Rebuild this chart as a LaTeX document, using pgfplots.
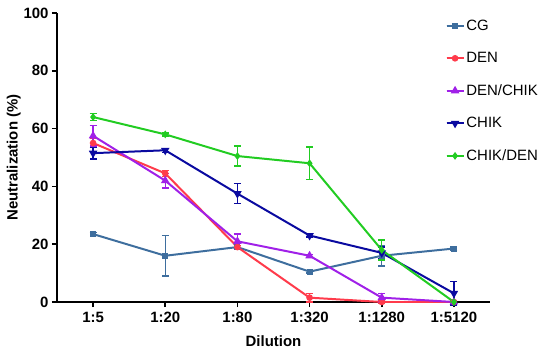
\documentclass[border=0pt]{standalone}
\usepackage{pgfplots}
\pgfplotsset{compat=1.18}
\usepackage{fontspec}
\setmainfont{Liberation Sans}
\definecolor{cCG}{HTML}{3E6E9E}
\definecolor{cDEN}{HTML}{FF3B4B}
\definecolor{cDC}{HTML}{A020E8}
\definecolor{cCHIK}{HTML}{0A0AA0}
\definecolor{cCD}{HTML}{22CC22}
\pgfplotsset{eb/.style={color=#1, line width=2pt,
    error bars/y dir=both, error bars/y explicit,
    error bars/error bar style={color=#1, line width=1.4pt},
    error bars/error mark options={color=#1, rotate=90, mark size=3.5pt, line width=1.4pt}}}
\begin{document}
\begin{tikzpicture}
\begin{axis}[
  scale only axis, width=433bp, height=289bp,
  xmin=-0.5, xmax=5.5, ymin=0, ymax=100,
  axis x line=bottom, axis y line=left,
  axis line style={line width=2.4pt, -},
  xtick={0,1,2,3,4,5},
  xticklabels={1:5,1:20,1:80,1:320,1:1280,1:5120},
  ytick={0,20,40,60,80,100},
  tick align=outside, major tick length=5bp,
  tick style={line width=1.6pt, black},
  ticklabel style={font=\fontsize{15}{17}\selectfont\bfseries},
  xticklabel style={yshift=-2pt},
  /pgf/number format/assume math mode=true,
  xlabel={Dilution}, ylabel={Neutralization (\%)},
  label style={font=\fontsize{15}{17}\selectfont\bfseries},
  xlabel style={yshift=-6pt},
  ylabel style={yshift=-4pt},
  clip=false,
  legend style={at={(rel axis cs:0.89,0.99)}, anchor=north west, draw=none,
    font=\fontsize{15}{17}\selectfont, row sep=16.5pt, fill=none},
  legend cell align=left,
  legend image code/.code={\draw[#1, line width=1.8pt] (0cm,0cm) -- (0.6cm,0cm); \path[#1,mark repeat=2,mark phase=2] plot coordinates {(0cm,0cm) (0.3cm,0cm)};},
]
\addplot[eb=cCG, mark=square*, mark size=2pt] table[x=x,y=y,y error=e] {
x y e
0 23.5 0.5
1 16 7
2 19 0.5
3 10.5 0.5
4 16 3.5
5 18.5 0.5
};
\addlegendentry{CG}
\addplot[eb=cDEN, mark=*, mark size=2.3pt] table[x=x,y=y,y error=e] {
x y e
0 55 1.5
1 44.5 1
2 19 0.5
3 1.5 1.5
4 0 0.3
5 0 0.3
};
\addlegendentry{DEN}
\addplot[eb=cDC, mark=triangle*, mark size=3pt] table[x=x,y=y,y error=e] {
x y e
0 57.5 3.5
1 42 2.5
2 21 2.5
3 16 0.5
4 1.5 1.5
5 0 0.3
};
\addlegendentry{DEN/CHIK}
\addplot[eb=cCHIK, mark=triangle*, mark options={rotate=180}, mark size=3pt] table[x=x,y=y,y error=e] {
x y e
0 51.5 2
1 52.5 0.7
2 37.5 3.5
3 23 0.5
4 17 2
5 3 4
};
\addlegendentry{CHIK}
\addplot[eb=cCD, mark=diamond*, mark size=2.3pt] table[x=x,y=y,y error=e] {
x y e
0 64 1.2
1 58 0.5
2 50.5 3.5
3 48 5.7
4 18 3.5
5 0 0.3
};
\addlegendentry{CHIK/DEN}
\end{axis}
\path[use as bounding box] (-57bp,-54bp) rectangle (493bp,302bp);
\end{tikzpicture}
\end{document}
